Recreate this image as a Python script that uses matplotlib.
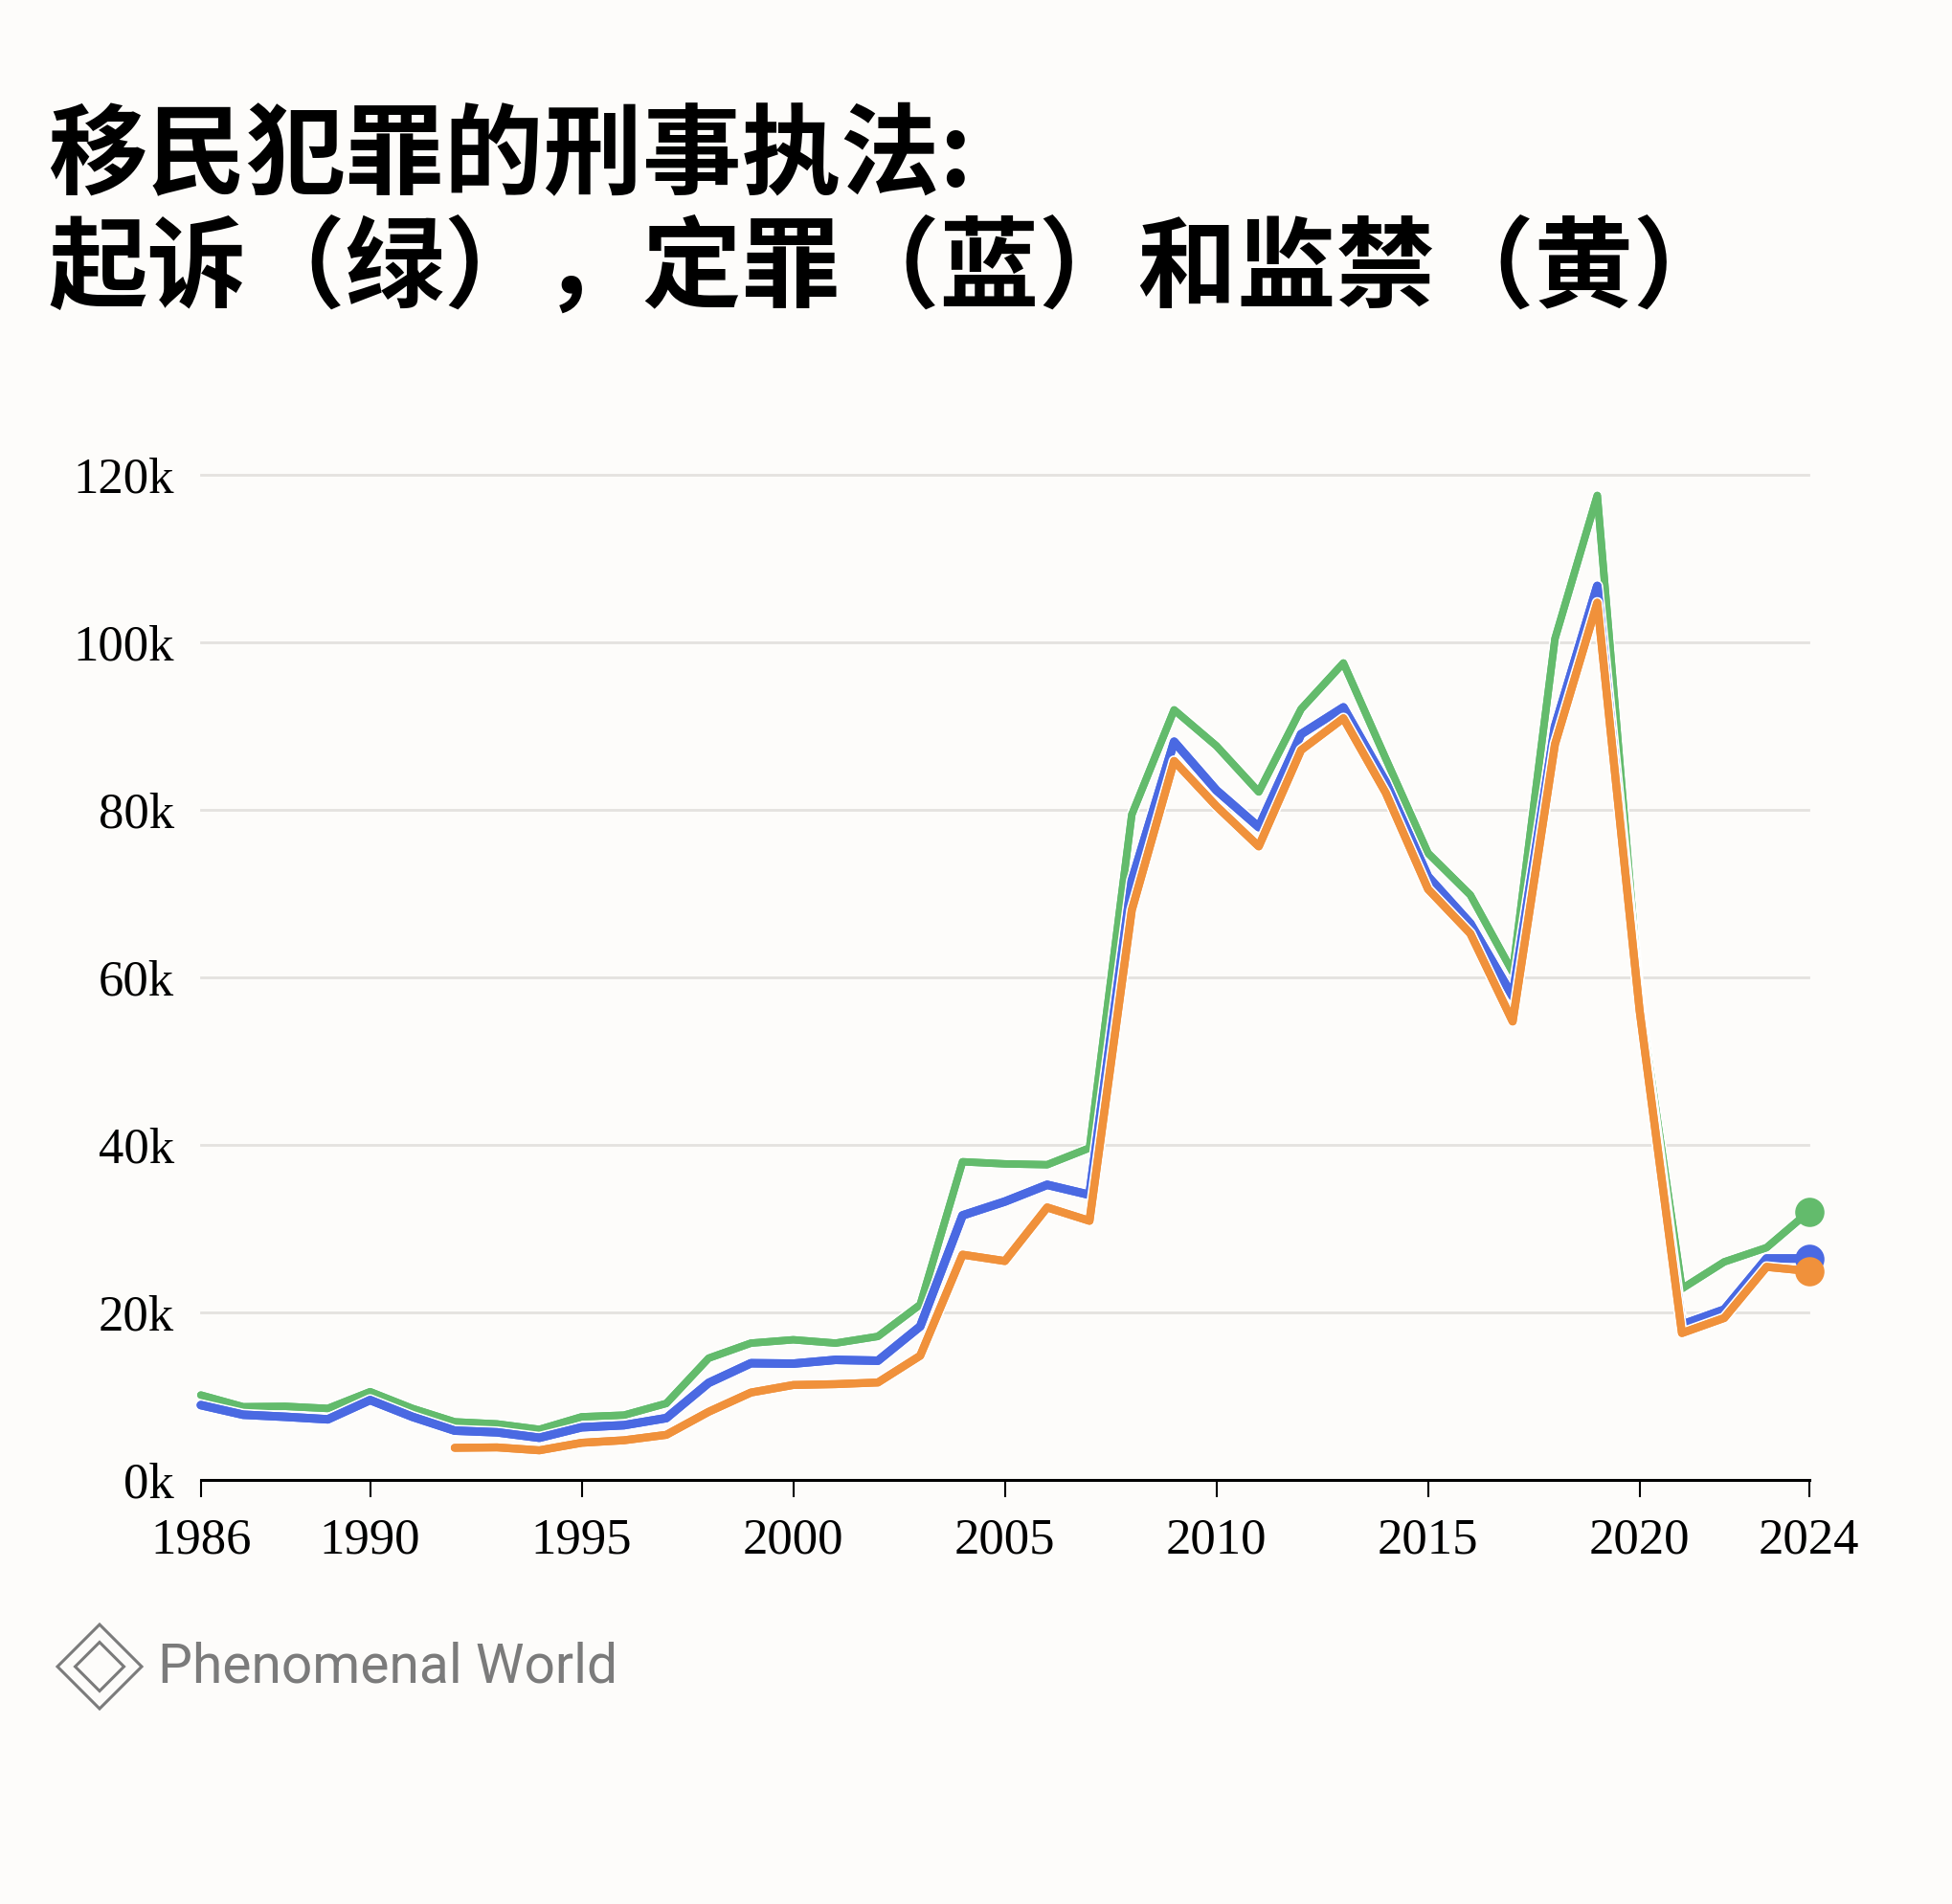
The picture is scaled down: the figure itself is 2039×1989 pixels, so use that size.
import matplotlib
matplotlib.use("Agg")
import matplotlib.pyplot as plt
from matplotlib.patches import Polygon
import matplotlib.patheffects as pe

# ---------------- data ----------------
years_all = list(range(1986, 2025))
prosecutions = [10.1, 8.7, 8.75, 8.5, 10.5, 8.5, 6.9, 6.65, 6.0, 7.5, 7.7, 9.1, 14.5, 16.3,
                16.7, 16.3, 17.1, 20.9, 37.95, 37.7, 37.6, 39.6, 79.4, 91.9, 87.6, 82.1,
                92.0, 97.5, 86.1, 74.8, 69.8, 60.6, 100.4, 117.5, 57.5, 22.8, 26.0, 27.7, 32.0]
convictions = [8.9, 7.75, 7.5, 7.2, 9.5, 7.5, 5.85, 5.65, 5.0, 6.25, 6.5, 7.35, 11.55, 13.9,
               13.85, 14.3, 14.2, 18.3, 31.55, 33.2, 35.2, 34.0, 71.5, 88.1, 82.3, 77.9,
               89.0, 92.2, 83.3, 72.0, 66.4, 57.7, 89.9, 106.7, 56.5, 18.5, 20.3, 26.4, 26.4]
years_prison = list(range(1992, 2025))
imprisonment = [3.8, 3.85, 3.5, 4.4, 4.7, 5.35, 8.1, 10.4, 11.3, 11.4, 11.6, 14.8, 26.86,
                26.1, 32.5, 30.9, 68.0, 85.8, 80.4, 75.6, 87.1, 90.9, 82.0, 70.5, 65.2, 54.7,
                87.8, 104.7, 56.0, 17.5, 19.3, 25.4, 24.9]

x_ticks = [1986, 1990, 1995, 2000, 2005, 2010, 2015, 2020, 2024]
y_ticks = [0, 20, 40, 60, 80, 100, 120]
y_labels = ["0k", "20k", "40k", "60k", "80k", "100k", "120k"]

title_line1 = "移民犯罪的刑事执法:"
title_line2 = "起诉（绿），定罪（蓝）和监禁（黄）"
brand = "Phenomenal World"

# ---------------- style ----------------
BG = "#fdfcfa"
GREEN = "#63bb6c"
BLUE = "#4a69e2"
ORANGE = "#f0913b"
W, H = 2040, 1989

fig = plt.figure(figsize=(W / 100, H / 100), dpi=100, facecolor=BG)
ax = fig.add_axes([209.8 / W, 1 - 1545.7 / H, (1889.5 - 209.8) / W, (1545.7 - 495.7) / H])
ax.set_facecolor(BG)

series = [
    (years_all, prosecutions, GREEN, 5.6),
    (years_all, convictions, BLUE, 6.4),
    (years_prison, imprisonment, ORANGE, 6.0),
]
for i, (xs, ys, col, lw) in enumerate(series):
    ax.plot(xs, ys, color=col, lw=lw, solid_joinstyle="round", solid_capstyle="round",
            clip_on=False, zorder=3 + i,
            path_effects=[pe.withStroke(linewidth=lw + 2.5, foreground="white"), pe.Normal()])
    ax.plot(xs[-1], ys[-1], "o", ms=22, color=col, mew=0, clip_on=False, zorder=6 + i)

ax.set_xlim(1986, 2024)
ax.set_ylim(0, 120)

ax.set_yticks(y_ticks)
ax.set_yticklabels(y_labels)
ax.set_xticks(x_ticks)
ax.set_xticklabels([str(t) for t in x_ticks])

for y in y_ticks[1:]:
    ax.axhline(y, color="#e4e2df", lw=2.0, zorder=1, clip_on=False)

for s in ["left", "right", "top"]:
    ax.spines[s].set_visible(False)
ax.spines["bottom"].set_color("black")
ax.spines["bottom"].set_linewidth(2.2)
ax.spines["bottom"].set_zorder(10)

ax.tick_params(axis="y", length=0, pad=20)
ax.tick_params(axis="x", length=13, width=1.5, color="black", pad=15.5)
for lab in ax.get_xticklabels() + ax.get_yticklabels():
    lab.set_fontfamily("Liberation Serif")
    lab.set_fontsize(38)
    lab.set_color("black")

# ---------------- title ----------------
cjk = ["Noto Sans CJK SC", "DejaVu Sans"]
fig.text(50 / W, 1 - 195 / H, title_line1, family=cjk, fontsize=74.5, fontweight="bold",
         va="baseline", ha="left", color="black")
fig.text(50 / W, 1 - 313 / H, title_line2, family=cjk, fontsize=74.5, fontweight="bold",
         va="baseline", ha="left", color="black")

# ---------------- brand ----------------
GRAY = "#7b7b7b"
cx, cy = 104, 1741
for r in (44, 25.5):
    pts = [((cx) / W, 1 - (cy - r) / H), ((cx + r) / W, 1 - cy / H),
           (cx / W, 1 - (cy + r) / H), ((cx - r) / W, 1 - cy / H)]
    fig.add_artist(Polygon(pts, closed=True, fill=False, edgecolor=GRAY, lw=2.2,
                           transform=fig.transFigure))
fig.text(165 / W, 1 - 1758 / H, brand, family=["Roboto", "DejaVu Sans"], fontweight="normal",
         fontsize=41, color=GRAY, va="baseline", ha="left")

fig.savefig("out.png", dpi=100, facecolor=BG)
